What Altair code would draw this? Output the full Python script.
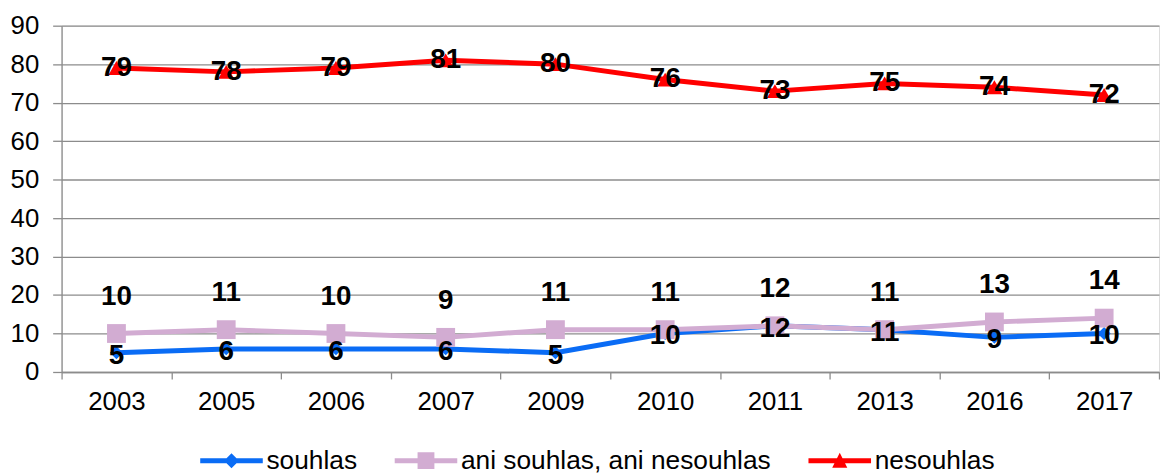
import altair as alt
import pandas as pd

years = ["2003", "2005", "2006", "2007", "2009", "2010", "2011", "2013", "2016", "2017"]
souhlas = [5, 6, 6, 6, 5, 10, 12, 11, 9, 10]
ani = [10, 11, 10, 9, 11, 11, 12, 11, 13, 14]
nesouhlas = [79, 78, 79, 81, 80, 76, 73, 75, 74, 72]

series_names = ["souhlas", "ani souhlas, ani nesouhlas", "nesouhlas"]
series_values = [souhlas, ani, nesouhlas]
colors = ["#0A6CF5", "#D2ACD2", "#FF0000"]
marker_shapes = ["diamond", "square", "triangle-up"]
marker_sizes = [170, 360, 260]
label_dy = [3, -37, 0]

legend_paths = [
    "M-3.94,-0.31H3.94V0.31H-3.94Z M0,-0.94L0.94,0L0,0.94L-0.94,0Z",
    "M-3.94,-0.31H3.94V0.31H-3.94Z M-1.06,-1.06H1.06V1.06H-1.06Z",
    "M-3.94,-0.31H3.94V0.31H-3.94Z M0,-1L0.95,0.9L-0.95,0.9Z",
]

rows = []
for name, vals in zip(series_names, series_values):
    for yr, v in zip(years, vals):
        rows.append({"year": yr, "series": name, "value": v})
df = pd.DataFrame(rows)

FONT = "Liberation Sans, Arial, sans-serif"
GRID = "#8C8C8C"

x_enc = alt.X(
    "year:O",
    sort=years,
    scale=alt.Scale(type="band", paddingInner=0, paddingOuter=0),
    axis=alt.Axis(
        title=None, tickBand="extent", labelAngle=0, tickSize=7, labelPadding=10,
        domainColor=GRID, domainWidth=1.3, tickColor=GRID, tickWidth=1.3,
        labelFontSize=26, labelFont=FONT, labelColor="black", grid=False,
    ),
)
y_enc = alt.Y(
    "value:Q",
    scale=alt.Scale(domain=[0, 90], nice=False),
    axis=alt.Axis(
        title=None, values=list(range(0, 91, 10)), grid=True, gridColor=GRID,
        gridWidth=1.3, domainColor=GRID, domainWidth=1.3, tickColor=GRID,
        tickWidth=1.3, tickSize=9, labelPadding=14, labelFontSize=26,
        labelFont=FONT, labelColor="black",
    ),
)

base = alt.Chart(df)
layers = []
for name, col, shp, sz in zip(series_names, colors, marker_shapes, marker_sizes):
    sub = base.transform_filter(alt.datum.series == name)
    layers.append(sub.mark_line(color=col, strokeWidth=5).encode(x=x_enc, y=y_enc))
    layers.append(
        sub.mark_point(shape=shp, size=sz, filled=True, color=col, opacity=1, strokeWidth=0)
        .encode(x=x_enc, y=y_enc)
    )

for name, dy in zip(series_names, label_dy):
    sub = base.transform_filter(alt.datum.series == name)
    layers.append(
        sub.mark_text(fontSize=28, fontWeight="bold", font=FONT, color="black",
                      baseline="middle", align="center", dy=dy)
        .encode(x=x_enc, y=y_enc, text="value:Q")
    )

legend_spec = alt.Legend(
    title=None, orient="none", direction="horizontal", legendX=158, legendY=425,
    labelFontSize=26.5, labelFont=FONT, labelColor="black", labelLimit=0, symbolSize=256,
    labelOffset=22, columnPadding=37, symbolStrokeWidth=0, symbolOpacity=1,
)
legend_layer = base.transform_filter("false").mark_point(
    filled=True, size=256, opacity=1, strokeWidth=0
).encode(
    x=x_enc,
    y=y_enc,
    color=alt.Color("series:N", scale=alt.Scale(domain=series_names, range=colors), legend=legend_spec),
    shape=alt.Shape("series:N", scale=alt.Scale(domain=series_names, range=legend_paths), legend=legend_spec),
)
layers.append(legend_layer)

chart = alt.layer(*layers).properties(
    width=1106, height=349,
    padding={"left": 2, "top": 3, "right": 0, "bottom": 0},
).configure_view(stroke=None).configure(background="white")

chart.save("out.html", embed_options={"renderer": "svg", "actions": False})
